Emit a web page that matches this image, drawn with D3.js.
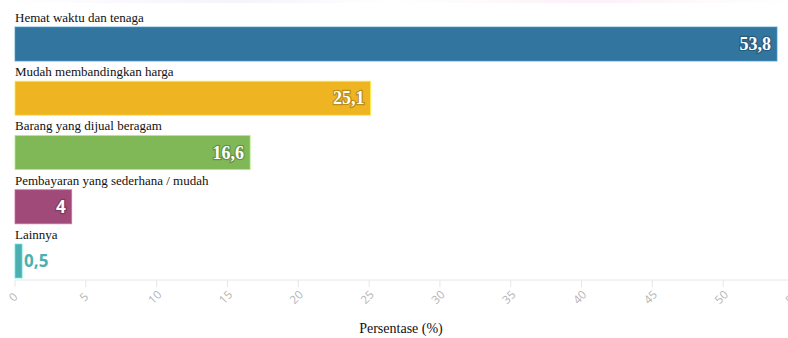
<!DOCTYPE html>
<html>
<head>
<meta charset="utf-8">
<script src="https://cdn.jsdelivr.net/npm/d3@7"></script>
<style>
  body { margin: 0; background: #fff; overflow: hidden; }
  svg { display: block; }
</style>
</head>
<body>
<div id="chart"></div>
<script>
// Alasan belanja online, persentase responden
var categories = ['Hemat waktu dan tenaga', 'Mudah membandingkan harga', 'Barang yang dijual beragam', 'Pembayaran yang sederhana / mudah', 'Lainnya']
var values = [53.8, 25.1, 16.6, 4, 0.5]
var colors = ['#32759f', '#eeb422', '#80b858', '#9f4a79', '#4cb0b0']
var tickValues = [0, 5, 10, 15, 20, 25, 30, 35, 40, 45, 50, 55]
var axisTitle = 'Persentase (%)'

var width = 788
var height = 338

var svg = d3.select('#chart').append('svg')
  .attr('width', width)
  .attr('height', height)

// faint strip along the top edge
var grad = svg.append('defs').append('linearGradient').attr('id', 'topfade')
grad.append('stop').attr('offset', '0%').attr('stop-color', '#fff')
grad.append('stop').attr('offset', '30%').attr('stop-color', '#f6f3fb')
grad.append('stop').attr('offset', '50%').attr('stop-color', '#fff')
grad.append('stop').attr('offset', '75%').attr('stop-color', '#fbf1f8')
grad.append('stop').attr('offset', '100%').attr('stop-color', '#fff')
svg.append('rect').attr('x', 0).attr('y', 0).attr('width', width).attr('height', 3).attr('fill', 'url(#topfade)')

// the plot runs a little past the right edge, as in the original
var x = d3.scaleLinear().domain([0, 55]).range([15, 794])
var y = d3.scaleBand().domain(categories).range([27, 278]).paddingInner(0.373).paddingOuter(0)
var barH = y.bandwidth()

var rows = svg.selectAll('g.row')
  .data(categories)
  .enter().append('g')
  .attr('class', 'row')

rows.append('rect')
  .attr('x', x(0))
  .attr('y', function (d) { return y(d) })
  .attr('width', function (d, i) { return x(values[i]) - x(0) })
  .attr('height', barH)
  .attr('fill', function (d, i) { return colors[i] })
  .attr('stroke', function (d, i) { return d3.color(colors[i]).brighter(0.8) })
  .attr('stroke-opacity', 0.7)
  .attr('stroke-width', 1)

rows.append('text')
  .attr('x', x(0))
  .attr('y', function (d) { return y(d) - 5 })
  .attr('font-family', 'Liberation Serif, serif')
  .attr('font-size', 13)
  .attr('fill', '#111')
  .text(function (d) { return d })

// value labels: inside the bar when wide enough, otherwise after it
rows.append('text')
  .attr('x', function (d, i) { return values[i] > 2 ? x(values[i]) - 6 : x(values[i]) + 2 })
  .attr('y', function (d) { return y(d) + barH / 2 + 6 })
  .attr('text-anchor', function (d, i) { return values[i] > 2 ? 'end' : 'start' })
  .attr('font-family', function (d, i) { return values[i] > 10 ? 'Liberation Serif, serif' : 'Open Sans, sans-serif' })
  .attr('font-weight', 'bold')
  .attr('font-size', function (d, i) { return values[i] > 10 ? 18 : 17 })
  .attr('fill', function (d, i) { return values[i] > 2 ? '#fff' : colors[i] })
  .style('paint-order', 'stroke')
  .attr('stroke', function (d, i) { return values[i] > 2 ? d3.color(colors[i]).darker(1.2) : 'none' })
  .attr('stroke-opacity', 0.6)
  .attr('stroke-width', 2.5)
  .text(function (d, i) { return String(values[i]).replace('.', ',') })

// x axis
var axisY = 280
var axis = svg.append('g').attr('transform', 'translate(0,' + axisY + ')')
axis.append('line')
  .attr('x1', x(0)).attr('x2', width)
  .attr('stroke', '#e6e6e6')
axis.selectAll('line.tick')
  .data(tickValues)
  .enter().append('line')
  .attr('class', 'tick')
  .attr('x1', function (d) { return x(d) }).attr('x2', function (d) { return x(d) })
  .attr('y1', 0).attr('y2', 7)
  .attr('stroke', '#e6e6e6')
axis.selectAll('text.tick')
  .data(tickValues)
  .enter().append('text')
  .attr('class', 'tick')
  .attr('text-anchor', 'middle')
  .attr('transform', function (d) { return 'translate(' + (x(d) + 1) + ',20)rotate(-45)' })
  .attr('font-family', 'Open Sans, sans-serif')
  .attr('font-size', 11.5)
  .attr('fill', '#b5b5b5')
  .text(function (d) { return d })

svg.append('text')
  .attr('x', 401)
  .attr('y', 333)
  .attr('text-anchor', 'middle')
  .attr('font-family', 'Liberation Serif, serif')
  .attr('font-size', 14)
  .attr('fill', '#111')
  .text(axisTitle)
</script>
</body>
</html>
